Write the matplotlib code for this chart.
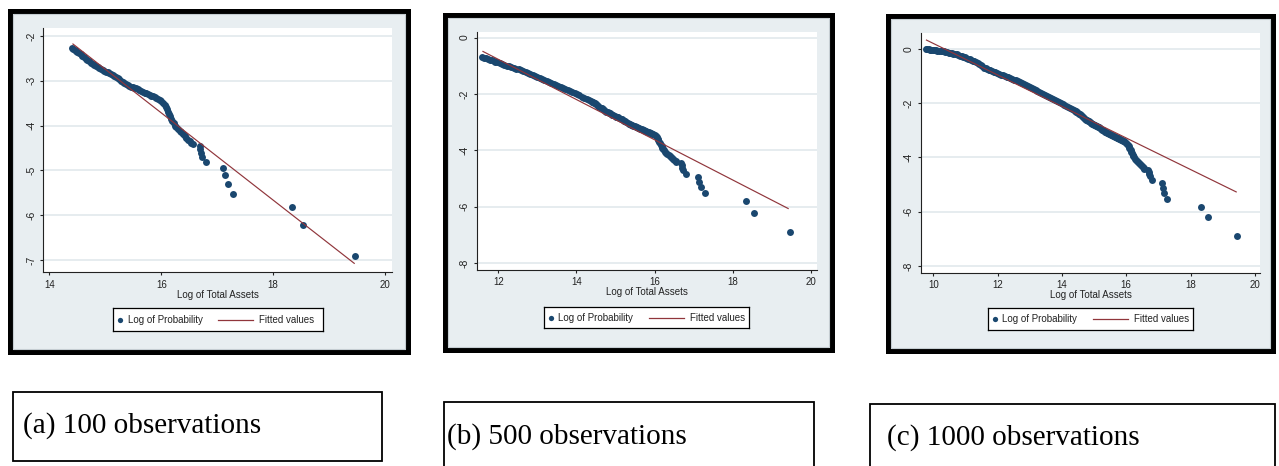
import numpy as np
import matplotlib.pyplot as plt
from matplotlib.patches import Rectangle

plt.rcParams['axes.unicode_minus'] = False
plt.rcParams['font.family'] = ['Liberation Sans', 'DejaVu Sans']

# firms: the same firms in all panels, each panel keeps the largest ones
log_total_assets = [
    9.79, 9.82, 9.86, 9.90, 9.94, 9.98, 10.03, 10.08, 10.13, 10.18,
    10.23, 10.28, 10.33, 10.38, 10.43, 10.48, 10.53, 10.58, 10.63, 10.68,
    10.73, 10.78, 10.83, 10.88, 10.93, 10.98, 11.03, 11.08, 11.13, 11.18,
    11.23, 11.28, 11.33, 11.38, 11.43, 11.48, 11.53, 11.58, 11.63, 11.68,
    11.73, 11.78, 11.83, 11.88, 11.93, 11.98, 12.04, 12.10, 12.16, 12.22,
    12.28, 12.34, 12.40, 12.46, 12.52, 12.58, 12.64, 12.70, 12.76, 12.82,
    12.88, 12.94, 13.00, 13.06, 13.12, 13.18, 13.24, 13.30, 13.36, 13.42,
    13.48, 13.54, 13.60, 13.66, 13.72, 13.78, 13.84, 13.90, 13.96, 14.02,
    14.08, 14.14, 14.20, 14.26, 14.32, 14.37,
    14.40, 14.43, 14.45, 14.48, 14.50, 14.53, 14.56, 14.59, 14.62, 14.65,
    14.68, 14.71, 14.74, 14.77, 14.80, 14.83, 14.86, 14.89, 14.92, 14.95,
    14.98, 15.01, 15.04, 15.07, 15.10, 15.13, 15.16, 15.19, 15.22, 15.25,
    15.28, 15.31, 15.34, 15.37, 15.40, 15.43, 15.46, 15.49, 15.52, 15.55,
    15.58, 15.61, 15.64, 15.67, 15.70, 15.73, 15.76, 15.79, 15.82, 15.85,
    15.88, 15.91, 15.94, 15.97, 16.00, 16.03, 16.06, 16.08, 16.10, 16.12,
    16.14, 16.16, 16.18, 16.20, 16.22, 16.24, 16.27, 16.30, 16.33, 16.36,
    16.39, 16.42, 16.45, 16.48, 16.51, 16.54, 16.56,
    16.69, 16.70, 16.71, 16.73, 16.80, 17.11, 17.14, 17.19, 17.28, 18.33,
    18.54, 19.46]
log_probability = [
    0.00, -0.01, -0.01, -0.02, -0.03, -0.03, -0.04, -0.05, -0.06, -0.07,
    -0.08, -0.09, -0.09, -0.10, -0.11, -0.13, -0.14, -0.15, -0.17, -0.19,
    -0.20, -0.22, -0.24, -0.26, -0.28, -0.31, -0.33, -0.36, -0.38, -0.41,
    -0.43, -0.46, -0.49, -0.52, -0.55, -0.59, -0.64, -0.69, -0.71, -0.74,
    -0.76, -0.78, -0.81, -0.83, -0.85, -0.88, -0.91, -0.94, -0.96, -0.99,
    -1.02, -1.05, -1.08, -1.10, -1.13, -1.16, -1.19, -1.22, -1.25, -1.28,
    -1.32, -1.35, -1.39, -1.42, -1.46, -1.50, -1.53, -1.57, -1.61, -1.65,
    -1.69, -1.72, -1.76, -1.80, -1.83, -1.87, -1.90, -1.94, -1.98, -2.01,
    -2.05, -2.09, -2.13, -2.17, -2.21, -2.25,
    -2.28, -2.29, -2.31, -2.33, -2.36, -2.38, -2.41, -2.45, -2.48, -2.51,
    -2.54, -2.57, -2.60, -2.62, -2.65, -2.67, -2.69, -2.72, -2.74, -2.76,
    -2.78, -2.80, -2.81, -2.83, -2.85, -2.87, -2.89, -2.91, -2.94, -2.97,
    -3.00, -3.03, -3.05, -3.07, -3.09, -3.11, -3.13, -3.14, -3.16, -3.17,
    -3.19, -3.21, -3.23, -3.25, -3.27, -3.28, -3.30, -3.32, -3.33, -3.35,
    -3.37, -3.39, -3.41, -3.43, -3.46, -3.49, -3.54, -3.59, -3.64, -3.69,
    -3.74, -3.79, -3.85, -3.90, -3.95, -4.00, -4.04, -4.08, -4.12, -4.15,
    -4.19, -4.23, -4.27, -4.31, -4.35, -4.39, -4.42,
    -4.45, -4.52, -4.61, -4.70, -4.82, -4.95, -5.11, -5.30, -5.52, -5.81,
    -6.21, -6.91]

panel_labels = ['(a) 100 observations', '(b) 500 observations', '(c) 1000 observations']
panel_first_x = [14.40, 11.58, 9.79]       # smallest firm shown in each panel
fit_x = [[14.42, 19.45], [11.61, 19.42], [9.79, 19.42]]
fit_y = [[-2.18, -7.07], [-0.49, -6.06], [0.33, -5.27]]
x_ticks = [[14, 16, 18, 20], [12, 14, 16, 18, 20], [10, 12, 14, 16, 18, 20]]
y_ticks = [[-7, -6, -5, -4, -3, -2], [-8, -6, -4, -2, 0], [-8, -6, -4, -2, 0]]
x_lims = [(13.89, 20.12), (11.45, 20.15), (9.62, 20.16)]
y_lims = [(-7.27, -1.83), (-8.24, 0.21), (-8.25, 0.58)]

# layout, in pixels of the 1279x466 picture (x0, y0, x1, y1), y from the top
frames = [(7, 8, 410, 354), (442, 12, 834, 352), (885, 13, 1275, 353)]
plot_areas = [(43.3, 28.3, 391.7, 272.3), (476.7, 31.7, 816.7, 270), (921, 33.3, 1260, 272.7)]
legend_boxes = [(113, 308, 323, 331), (544, 307, 749, 328), (988, 308, 1193, 330)]
caption_boxes = [(13.3, 391.7, 381.7, 461), (444, 401.7, 814, 472), (870, 404, 1275, 472)]
caption_text = [(22.7, 433), (447, 443.3), (886.7, 444.3)]

NAVY = '#1a476f'
MAROON = '#90353b'
REGION = '#e8eef1'
W, H = 1279, 466


def fig_rect(x0, y0, x1, y1):
    return [x0 / W, 1 - y1 / H, (x1 - x0) / W, (y1 - y0) / H]


fig = plt.figure(figsize=(W / 100, H / 100), dpi=100)
fig.patch.set_facecolor('white')

assets = np.array(log_total_assets)
prob = np.array(log_probability)

for i in range(3):
    # black frame and bluish-gray graph region
    fx0, fy0, fx1, fy1 = frames[i]
    r = fig_rect(fx0 + 2.5, fy0 + 2.5, fx1 - 2.5, fy1 - 2.5)
    fig.add_artist(Rectangle((r[0], r[1]), r[2], r[3], transform=fig.transFigure,
                             facecolor=REGION, edgecolor='black', lw=3.6, zorder=-2))
    r = fig_rect(fx0 + 5.5, fy0 + 5.5, fx1 - 5.5, fy1 - 5.5)
    fig.add_artist(Rectangle((r[0], r[1]), r[2], r[3], transform=fig.transFigure,
                             facecolor='none', edgecolor='#c5cdd2', lw=0.8, zorder=-1))

    ax = fig.add_axes(fig_rect(*plot_areas[i]))
    ax.set_facecolor('white')
    keep = assets >= panel_first_x[i]
    ax.plot(assets[keep], prob[keep], 'o', color=NAVY, ms=5.0, mew=0, zorder=3)
    ax.plot(fit_x[i], fit_y[i], color=MAROON, lw=0.85, zorder=4)

    ax.set_xlim(*x_lims[i])
    ax.set_ylim(*y_lims[i])
    ax.set_xticks(x_ticks[i])
    ax.set_yticks(y_ticks[i])
    ax.set_yticklabels([str(t) for t in y_ticks[i]], rotation=90, va='center')
    ax.grid(axis='y', color='#e4ebee', lw=1.3)
    ax.set_axisbelow(True)
    for s in ['top', 'right']:
        ax.spines[s].set_visible(False)
    for s in ['left', 'bottom']:
        ax.spines[s].set_color('#222222')
        ax.spines[s].set_linewidth(0.8)
    ax.tick_params(length=2.2, width=0.8, labelsize=7, colors='#222222', pad=3)
    ax.tick_params(axis='y', labelsize=7.5)
    ax.set_xlabel('Log of Total Assets', fontsize=7, color='#222222', labelpad=0)

    # legend box like Stata's
    lx0, ly0, lx1, ly1 = legend_boxes[i]
    lax = fig.add_axes(fig_rect(lx0, ly0, lx1, ly1))
    lax.set_xlim(0, lx1 - lx0)
    lax.set_ylim(0, 1)
    lax.set_xticks([])
    lax.set_yticks([])
    for s in lax.spines.values():
        s.set_linewidth(0.9)
        s.set_color('black')
    lax.plot([6.7], [0.5], 'o', color=NAVY, ms=3.8, mew=0)
    lax.text(14.5, 0.48, 'Log of Probability', fontsize=7, color='#222222', va='center')
    lax.plot([104.5, 140], [0.5, 0.5], color=MAROON, lw=0.9)
    lax.text(146, 0.48, 'Fitted values', fontsize=7, color='#222222', va='center')

    # caption under each panel
    cx0, cy0, cx1, cy1 = caption_boxes[i]
    r = fig_rect(cx0, cy0, cx1, cy1)
    fig.add_artist(Rectangle((r[0], r[1]), r[2], r[3], transform=fig.transFigure,
                             facecolor='white', edgecolor='black', lw=1.3))
    tx, ty = caption_text[i]
    fig.text(tx / W, 1 - ty / H, panel_labels[i], fontsize=21, va='baseline',
             family=['Liberation Serif', 'DejaVu Serif'])

fig.savefig('out.png', dpi=100)
